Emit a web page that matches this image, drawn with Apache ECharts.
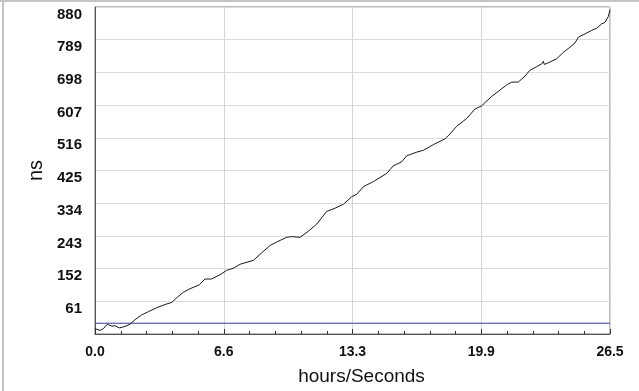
<!DOCTYPE html>
<html>
<head>
<meta charset="utf-8">
<script src="https://cdn.jsdelivr.net/npm/echarts@6/dist/echarts.min.js"></script>
<style>
  html, body { margin: 0; padding: 0; background: #fff; }
  #chart { width: 639px; height: 391px; }
</style>
</head>
<body>
<div id="chart"></div>
<script>
// x positions (hours/Seconds) and values (ns)
const timeValues = [0, 0.26, 0.43, 0.63, 0.86, 1.03, 1.25, 1.54, 1.80, 2.06, 2.40, 2.74, 3.17, 3.60, 3.95,
  4.23, 4.54, 4.89, 5.37, 5.66, 6.00, 6.43, 6.77, 7.12, 7.46, 8.15, 8.58, 9.00, 9.35, 9.86, 10.12, 10.55,
  10.98, 11.41, 11.92, 12.35, 12.78, 13.21, 13.47, 13.81, 14.32, 15.01, 15.35, 15.78, 16.04, 16.55, 16.89,
  17.41, 18.01, 18.27, 18.61, 19.13, 19.55, 19.90, 20.07, 20.41, 20.84, 21.18, 21.44, 21.78, 22.13, 22.38,
  22.73, 22.99, 23.07, 23.12, 23.41, 23.76, 24.10, 24.44, 24.70, 24.87, 25.21, 25.56, 25.82, 26.07, 26.24,
  26.41, 26.5];
const nsValues = [-15, -20, -15, -3, -8, -7, -13, -9, -3, 10, 23, 32, 43, 52, 58, 72, 86, 96, 107, 123, 123,
  135, 147, 153, 164, 175, 196, 216, 226, 239, 241, 239, 256, 276, 311, 320, 331, 352, 359, 380, 394, 417,
  438, 449, 466, 476, 481, 497, 513, 527, 548, 570, 596, 605, 614, 631, 649, 663, 671, 671, 688, 704, 714,
  722, 729, 720, 727, 736, 754, 768, 780, 796, 805, 815, 821, 833, 837, 853, 872];

// zero reference line
const baseX = [0, 26.5];
const baseY = [0, 0];

// y tick labels: 61, 152 ... 880 (step 91, axis bottom at -30)
const yMin = -30;
const yMax = 880;
const yStep = 91;
const xMax = 26.5;

const font = "'Liberation Sans', Arial, sans-serif";

const chart = echarts.init(document.getElementById('chart'));

chart.setOption({
  backgroundColor: '#fff',
  animation: false,
  grid: { left: 95, right: 29, top: 7, bottom: 54, show: true, borderColor: '#7a7a7a', borderWidth: 1 },
  graphic: [
    { type: 'rect', shape: { x: 0, y: 0, width: 639, height: 2 }, style: { fill: '#c4c4c4' } },
    { type: 'rect', shape: { x: 2, y: 0, width: 2, height: 391 }, style: { fill: '#c4c4c4' } }
  ],
  xAxis: [
    {
      type: 'value',
      min: 0,
      max: xMax,
      interval: xMax / 4,
      name: 'hours/Seconds',
      nameLocation: 'middle',
      nameGap: 33,
      nameTextStyle: { fontFamily: font, fontSize: 19, color: '#111', padding: [0, 0, 0, 18] },
      axisLine: { show: true, onZero: false, lineStyle: { color: '#555', width: 1 } },
      axisTick: { show: true, inside: true, length: 5, lineStyle: { color: '#333' } },
      splitLine: { show: true, lineStyle: { color: '#d6d6d6', width: 1 } },
      axisLabel: {
        fontFamily: font, fontSize: 14, fontWeight: 'bold', color: '#111', margin: 11,
        formatter: v => v.toFixed(1)
      }
    },
    {
      // minor ticks: 5 subdivisions per labelled step
      type: 'value',
      position: 'bottom',
      min: 0,
      max: xMax,
      interval: xMax / 20,
      axisLine: { show: false, onZero: false },
      axisTick: { show: true, inside: true, length: 3, lineStyle: { color: '#333' } },
      splitLine: { show: false },
      axisLabel: { show: false }
    }
  ],
  yAxis: [
    {
      type: 'value',
      min: yMin,
      max: yMax,
      show: false,
      splitLine: { show: false }
    },
    {
      type: 'value',
      position: 'left',
      min: 0,
      max: yMax - yMin,
      interval: yStep,
      name: 'ns',
      nameLocation: 'middle',
      nameGap: 47,
      nameTextStyle: { fontFamily: font, fontSize: 20, color: '#111' },
      axisLine: { show: true, onZero: false, lineStyle: { color: '#555', width: 1 } },
      axisTick: { show: false },
      splitLine: { show: true, lineStyle: { color: '#dcdcdc', width: 1 } },
      axisLabel: {
        fontFamily: font, fontSize: 15, fontWeight: 'bold', color: '#111', margin: 13,
        verticalAlign: 'top',
        showMinLabel: false,
        formatter: v => (v === 0 ? '' : String(v + yMin))
      }
    }
  ],
  series: [
    {
      type: 'line',
      yAxisIndex: 0,
      data: baseX.map((x, i) => [x, baseY[i]]),
      symbol: 'none',
      lineStyle: { color: '#3a3aaa', width: 1 },
      z: 2
    },
    {
      type: 'line',
      yAxisIndex: 0,
      data: timeValues.map((x, i) => [x, nsValues[i]]),
      symbol: 'none',
      lineStyle: { color: '#1a1a1a', width: 1 },
      z: 3
    }
  ]
});
</script>
</body>
</html>
